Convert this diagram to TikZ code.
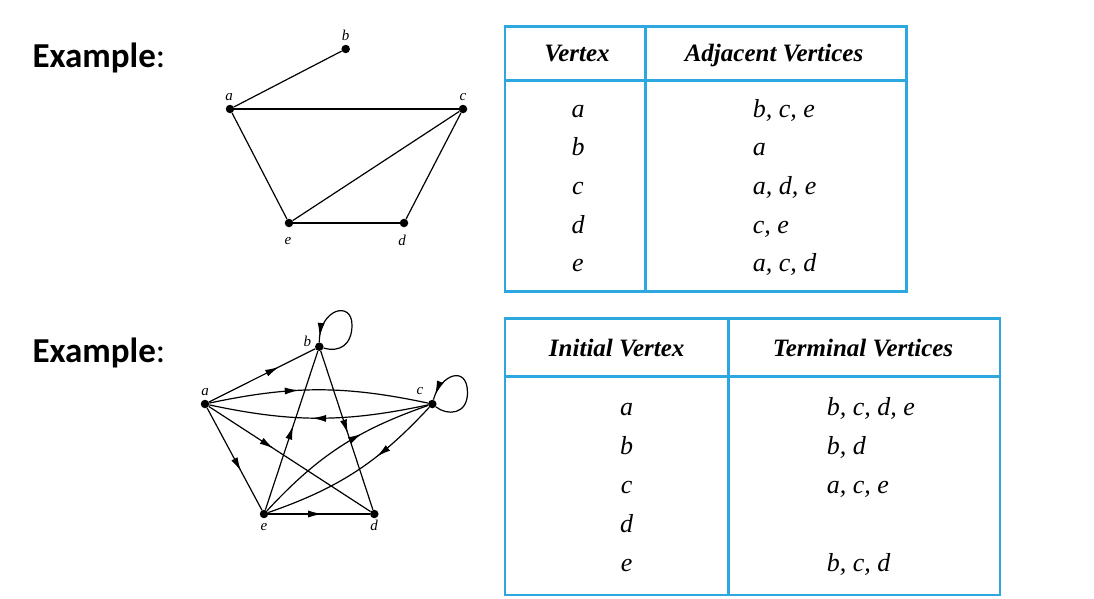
\documentclass[tikz,border=0pt]{standalone}
\usepackage{fontspec}
\setmainfont{Liberation Serif}
\newfontfamily\examplefont{Carlito}
\usetikzlibrary{arrows.meta, decorations.markings}
\definecolor{TableBlue}{HTML}{2CA7DF}

\tikzset{
  vtx/.style={circle, fill=black, inner sep=0pt, minimum size=8.5pt},
  vlbl/.style={anchor=base, font=\itshape\fontsize{15}{18}\selectfont},
  edge/.style={line width=1.2pt},
  midarrow/.style={postaction={decorate}, decoration={markings,
    mark=at position #1 with {\arrow{Latex[length=14pt,width=7pt]}}}},
  tblline/.style={draw=TableBlue, line width=2.6pt},
  hdr/.style={anchor=base, font=\bfseries\itshape\fontsize{25}{30}\selectfont},
  cell/.style={anchor=base, font=\itshape\fontsize{26}{30}\selectfont},
  extitle/.style={anchor=base west, font=\examplefont\fontsize{35}{40}\selectfont},
}

\begin{document}
\begin{tikzpicture}[x=1pt, y=1pt]
    \useasboundingbox (0,0) rectangle (1094,-598);

    % Titles
    \node[extitle] (ex1) at (29,-67.3) {\textbf{Example}:};
    \node[extitle] (ex2) at (29,-362.3) {\textbf{Example}:};

    % Undirected graph
    \node[vtx] (a1) at (230,-109) {};
    \node[vtx] (b1) at (345.7,-49) {};
    \node[vtx] (c1) at (463,-109) {};
    \node[vtx] (d1) at (404,-223) {};
    \node[vtx] (e1) at (289,-223) {};
    \node[vlbl] (la1) at (229,-100) {a};
    \node[vlbl] (lb1) at (345.7,-40.5) {b};
    \node[vlbl] (lc1) at (463,-100) {c};
    \node[vlbl] (ld1) at (402,-245) {d};
    \node[vlbl] (le1) at (288,-244) {e};
    \draw[edge] (a1) -- (b1);
    \draw[edge] (a1) -- (c1);
    \draw[edge] (a1) -- (e1);
    \draw[edge] (c1) -- (e1);
    \draw[edge] (c1) -- (d1);
    \draw[edge] (e1) -- (d1);

    % Directed graph
    \node[vtx] (a2) at (205,-404) {};
    \node[vtx] (b2) at (319.3,-346.7) {};
    \node[vtx] (c2) at (432.3,-404) {};
    \node[vtx] (d2) at (374.3,-514) {};
    \node[vtx] (e2) at (264,-514) {};
    \node[vlbl] (la2) at (205,-395) {a};
    \node[vlbl] (lb2) at (307.3,-346.7) {b};
    \node[vlbl] (lc2) at (420,-394) {c};
    \node[vlbl] (ld2) at (374,-530) {d};
    \node[vlbl] (le2) at (264,-530) {e};
    \coordinate (bloop) at (352,-325);
    \coordinate (cloop) at (467.5,-392.7);
    \draw[edge, midarrow=0.66] (a2) -- (b2);
    \draw[edge, midarrow=0.41] (a2) to[bend left=12] (c2);
    \draw[edge, midarrow=0.53] (c2) to[bend left=12] (a2);
    \draw[edge, midarrow=0.4] (a2) -- (d2);
    \draw[edge, midarrow=0.62] (a2) -- (e2);
    \draw[edge, midarrow=0.52] (b2) -- (d2);
    \draw[edge, midarrow=0.53] (e2) -- (b2);
    \draw[edge, midarrow=0.63] (e2) to[bend left=14] (c2);
    \draw[edge, midarrow=0.37] (c2) to[bend left=14] (e2);
    \draw[edge, midarrow=0.53] (e2) -- (d2);
    % Loops
    \draw[edge, midarrow=0.95] (b2) .. controls +(20,-6) and +(0,-20) .. (bloop)
        .. controls +(0,25) and +(0,38) .. (b2);
    \draw[edge, midarrow=0.95] (c2) .. controls +(15,-12) and +(0,-22) .. (cloop)
        .. controls +(0,28) and +(8,30) .. (c2);

    % Adjacency list table
    \draw[tblline] (505,-26.7) rectangle (906.7,-291.7);
    \draw[tblline] (645.7,-26.7) -- (645.7,-291.7);
    \draw[tblline] (505,-80.7) -- (906.7,-80.7);
    \node[hdr] (h11) at (577,-61.7) {Vertex};
    \node[hdr] (h12) at (774,-61.7) {Adjacent Vertices};
    \foreach \v/\adj [count=\i] in {a/{b, c, e}, b/a, c/{a, d, e}, d/{c, e}, e/{a, c, d}} {
        \node[cell] (v1-\i) at (578,-117-38.7*\i+38.7) {\v};
        \node[cell, anchor=base west] (w1-\i) at (749.3,-117-38.7*\i+38.7) {\adj};
    }

    % Directed adjacency list table
    \draw[tblline] (505,-318.3) rectangle (1000,-595);
    \draw[tblline] (728.3,-318.3) -- (728.3,-595);
    \draw[tblline] (505,-376.7) -- (1000,-376.7);
    \node[hdr] (h21) at (616.7,-356.7) {Initial Vertex};
    \node[hdr] (h22) at (863,-356.7) {Terminal Vertices};
    \foreach \v/\adj [count=\i] in {a/{b, c, d, e}, b/{b, d}, c/{a, c, e}, d/{}, e/{b, c, d}} {
        \node[cell] (v2-\i) at (626.7,-415-39.2*\i+39.2) {\v};
        \node[cell, anchor=base west] (w2-\i) at (823.3,-415-39.2*\i+39.2) {\adj};
    }

\end{tikzpicture}
\end{document}
